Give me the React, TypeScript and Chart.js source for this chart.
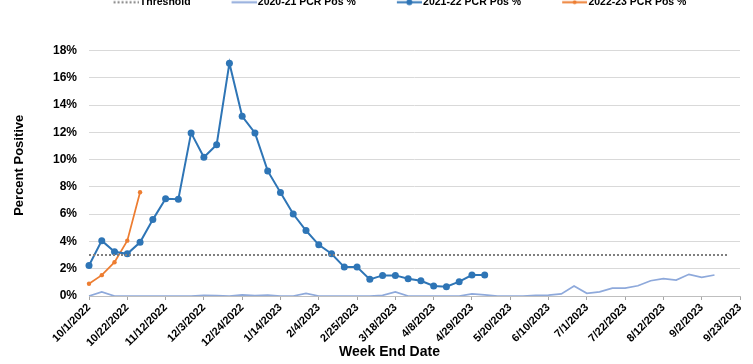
import React, { useEffect, useRef } from "react";
import { Chart, registerables } from "chart.js";

Chart.register(...registerables);

const weekLabels = [
  "10/1/2022", "10/8/2022", "10/15/2022", "10/22/2022", "10/29/2022", "11/5/2022",
  "11/12/2022", "11/19/2022", "11/26/2022", "12/3/2022", "12/10/2022", "12/17/2022",
  "12/24/2022", "12/31/2022", "1/7/2023", "1/14/2023", "1/21/2023", "1/28/2023",
  "2/4/2023", "2/11/2023", "2/18/2023", "2/25/2023", "3/4/2023", "3/11/2023",
  "3/18/2023", "3/25/2023", "4/1/2023", "4/8/2023", "4/15/2023", "4/22/2023",
  "4/29/2023", "5/6/2023", "5/13/2023", "5/20/2023", "5/27/2023", "6/3/2023",
  "6/10/2023", "6/17/2023", "6/24/2023", "7/1/2023", "7/8/2023", "7/15/2023",
  "7/22/2023", "7/29/2023", "8/5/2023", "8/12/2023", "8/19/2023", "8/26/2023",
  "9/2/2023", "9/9/2023", "9/16/2023", "9/23/2023",
];

const threshold = [
  3, 3, 3, 3, 3, 3, 3, 3, 3, 3, 3, 3, 3, 3, 3, 3, 3, 3, 3, 3, 3, 3, 3, 3, 3, 3,
  3, 3, 3, 3, 3, 3, 3, 3, 3, 3, 3, 3, 3, 3, 3, 3, 3, 3, 3, 3, 3, 3, 3, 3, 3,
];

const pos2020_21 = [
  0, 0.3, 0, 0, 0, 0, 0, 0, 0, 0.05, 0.03, 0, 0.08, 0.02, 0.06, 0, 0, 0.2, 0, 0,
  0, 0, 0, 0.05, 0.3, 0, 0, 0, 0, 0, 0.15, 0.08, 0, 0, 0, 0.05, 0.07, 0.15, 0.73,
  0.2, 0.3, 0.57, 0.57, 0.75, 1.12, 1.27, 1.17, 1.59, 1.37, 1.54,
];

const pos2021_22 = [
  2.24, 4.06, 3.24, 3.09, 3.94, 5.6, 7.13, 7.1, 11.96, 10.17, 11.09, 17.07, 13.18,
  11.96, 9.17, 7.59, 6.01, 4.8, 3.75, 3.1, 2.12, 2.12, 1.22, 1.51, 1.51, 1.27, 1.12,
  0.73, 0.68, 1.05, 1.54, 1.54,
];

const pos2022_23 = [0.9, 1.53, 2.48, 4.06, 7.61];

const seriesNames = ["Threshold", "2020-21 PCR Pos %", "2021-22 PCR Pos %", "2022-23 PCR Pos %"];
const xTitle = "Week End Date";
const yTitle = "Percent Positive";

const FONT = '"Liberation Sans", Arial, sans-serif';
const TOP_OFFSET = 44;

const COLORS = ["#7F7F7F", "#8EA9DB", "#2E75B6", "#ED7D31"];

function makeSymbol(color: string, width: number, dash: number[], markerR: number) {
  const c = document.createElement("canvas");
  c.width = 29;
  c.height = 9;
  const g = c.getContext("2d")!;
  g.strokeStyle = color;
  g.lineWidth = width;
  g.setLineDash(dash);
  g.beginPath();
  g.moveTo(4, 4.5);
  g.lineTo(29, 4.5);
  g.stroke();
  if (markerR > 0) {
    g.fillStyle = color;
    g.beginPath();
    g.arc(16.5, 4.5, markerR, 0, Math.PI * 2);
    g.fill();
  }
  return c;
}

const legendShift = {
  id: "legendShift",
  afterLayout(chart: any) {
    const lg = chart.legend;
    if (lg) {
      lg.left += 30;
      lg.right += 30;
    }
  },
};

const axisTitles = {
  id: "axisTitles",
  afterDraw(chart: any) {
    const ctx = chart.ctx;
    const ca = chart.chartArea;
    ctx.save();
    ctx.fillStyle = "#000";
    ctx.textAlign = "center";
    ctx.textBaseline = "middle";
    ctx.font = `bold 14px ${FONT}`;
    ctx.fillText(xTitle, (ca.left + ca.right) / 2 - 25, chart.height - 12);
    ctx.translate(19.5, (ca.top + ca.bottom) / 2 - 8);
    ctx.rotate(-Math.PI / 2);
    ctx.font = `bold 13px ${FONT}`;
    ctx.fillText(yTitle, 0, 0);
    ctx.restore();
  },
};

export default function App() {
  const canvasRef = useRef<HTMLCanvasElement | null>(null);

  useEffect(() => {
    if (!canvasRef.current) return;
    const symbols = [
      makeSymbol(COLORS[0], 2, [2, 2], 0),
      makeSymbol(COLORS[1], 2, [], 0),
      makeSymbol(COLORS[2], 2, [], 3),
      makeSymbol(COLORS[3], 2, [], 2),
    ];
    const chart = new Chart(canvasRef.current, {
      type: "line",
      data: {
        labels: weekLabels,
        datasets: [
          {
            label: seriesNames[0],
            data: threshold,
            borderColor: COLORS[0],
            borderWidth: 2,
            borderDash: [2, 2],
            pointRadius: 0,
            fill: false,
          },
          {
            label: seriesNames[1],
            data: pos2020_21,
            borderColor: COLORS[1],
            borderWidth: 1.75,
            pointRadius: 0,
            fill: false,
          },
          {
            label: seriesNames[2],
            data: pos2021_22,
            borderColor: COLORS[2],
            backgroundColor: COLORS[2],
            borderWidth: 2,
            pointRadius: 3.5,
            pointBackgroundColor: COLORS[2],
            pointBorderWidth: 0,
            fill: false,
          },
          {
            label: seriesNames[3],
            data: pos2022_23,
            borderColor: COLORS[3],
            backgroundColor: COLORS[3],
            borderWidth: 1.75,
            pointRadius: 2.2,
            pointBackgroundColor: COLORS[3],
            pointBorderWidth: 0,
            fill: false,
          },
        ],
      },
      options: {
        animation: false,
        responsive: false,
        maintainAspectRatio: false,
        layout: { padding: { left: 0, right: 13, top: 0, bottom: 0 } },
        plugins: {
          legend: {
            display: true,
            position: "top",
            labels: {
              usePointStyle: true,
              pointStyleWidth: 21,
              padding: 41,
              color: "#000",
              font: { family: FONT, size: 10.5, weight: "bold" },
              generateLabels: () =>
                seriesNames.map((name, i) => ({
                  text: name,
                  datasetIndex: i,
                  hidden: false,
                  fillStyle: "transparent",
                  strokeStyle: "transparent",
                  lineWidth: 0,
                  fontColor: "#000",
                  pointStyle: symbols[i],
                })),
            },
          },
          title: {
            display: true,
            text: "",
            position: "top",
            weight: 500,
            font: { size: 10 },
            padding: { top: 21, bottom: 0 },
          },
          tooltip: { enabled: false },
        },
        scales: {
          x: {
            type: "category",
            offset: false,
            grid: {
              drawOnChartArea: false,
              drawTicks: true,
              tickLength: 4,
              color: (c: any) => (c.index % 3 === 0 ? "#A6A6A6" : "transparent"),
            },
            border: { display: true, color: "#BFBFBF", width: 1 },
            ticks: {
              autoSkip: false,
              maxRotation: 45,
              minRotation: 45,
              padding: 1,
              color: "#000",
              font: { family: FONT, size: 11, weight: "bold" },
              callback: (_v: any, i: number) => (i % 3 === 0 ? weekLabels[i] : ""),
            },
            afterFit: (s: any) => {
              s.height = 68;
            },
          },
          y: {
            min: 0,
            max: 18,
            grid: { color: "#D9D9D9", drawTicks: false, lineWidth: 1 },
            border: { display: false },
            ticks: {
              stepSize: 2,
              padding: 12,
              color: "#000",
              font: { family: FONT, size: 12, weight: "bold" },
              callback: (v: any) => v + "%",
            },
            afterFit: (s: any) => {
              s.width = 89;
            },
          },
        },
      },
      plugins: [legendShift, axisTitles],
    });
    return () => chart.destroy();
  }, []);

  return (
    <div style={{ position: "absolute", left: 0, top: -TOP_OFFSET, width: 753, height: 364 + TOP_OFFSET }}>
      <canvas
        ref={canvasRef}
        width={753}
        height={364 + TOP_OFFSET}
        style={{ width: 753, height: 364 + TOP_OFFSET }}
      />
    </div>
  );
}
